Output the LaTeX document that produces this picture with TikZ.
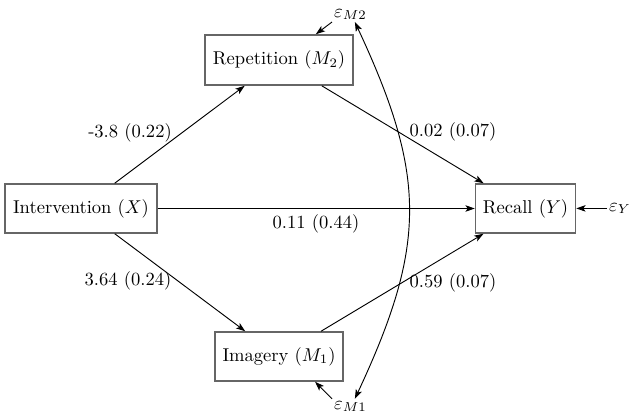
\documentclass[tikz,border=0pt]{standalone}
\usetikzlibrary{arrows.meta,calc}
\begin{document}
\begin{tikzpicture}[x=0.539pt,y=-0.539pt,
  >={Stealth[length=5pt,width=3.5pt,inset=1.2pt]},
  box/.style={draw=black!60,line width=0.8pt,minimum height=27pt,inner xsep=4pt,inner ysep=0pt},
  lab/.style={inner sep=0pt},
  eps/.style={inner sep=1pt},
  conn/.style={->,line width=0.5pt}]
\useasboundingbox (0,0) rectangle (631,415);
\node[box,minimum width=82pt,minimum height=26.4pt] (X) at (81,208.5) {Intervention $(X)$};
\node[box,minimum width=79.8pt] (M2) at (279,60) {Repetition $(M_2)$};
\node[box,minimum width=69pt,minimum height=26.4pt] (M1) at (279,356.5) {Imagery $(M_1)$};
\node[box,minimum width=53.4pt,minimum height=26.4pt] (Y) at (525.5,208.5) {Recall $(Y)$};
\node[eps,anchor=base west] (eM2) at (332,17) {$\varepsilon_{M2}$};
\node[eps,anchor=base west] (eM1) at (332,409) {$\varepsilon_{M1}$};
\node[eps,anchor=base west] (eY) at (607,211) {$\varepsilon_{Y}$};
\draw[conn] (X) -- (M2);
\draw[conn] (X) -- (M1);
\draw[conn] (X) -- (Y);
\draw[conn] (M2) -- (Y);
\draw[conn] (M1) -- (Y);
\draw[conn] (eM2.south west) -- (M2.35);
\draw[conn] (eM1.north west) -- (M1.-35);
\draw[conn] (eY.west) -- (eY.west -| Y.east);
\draw[<->,line width=0.5pt] (eM2.-60) .. controls ($(eM2.-60)+(72,154)$) and ($(eM1.60)+(72,-154)$) .. (eM1.60);
\node[lab] (l1) at (130,133) {-3.8 (0.22)};
\node[lab] (l2) at (453,132) {0.02 (0.07)};
\node[lab] (l3) at (128,281) {3.64 (0.24)};
\node[lab] (l4) at (453,283) {0.59 (0.07)};
\node[lab] (l5) at (316,224) {0.11 (0.44)};
\end{tikzpicture}
\end{document}
